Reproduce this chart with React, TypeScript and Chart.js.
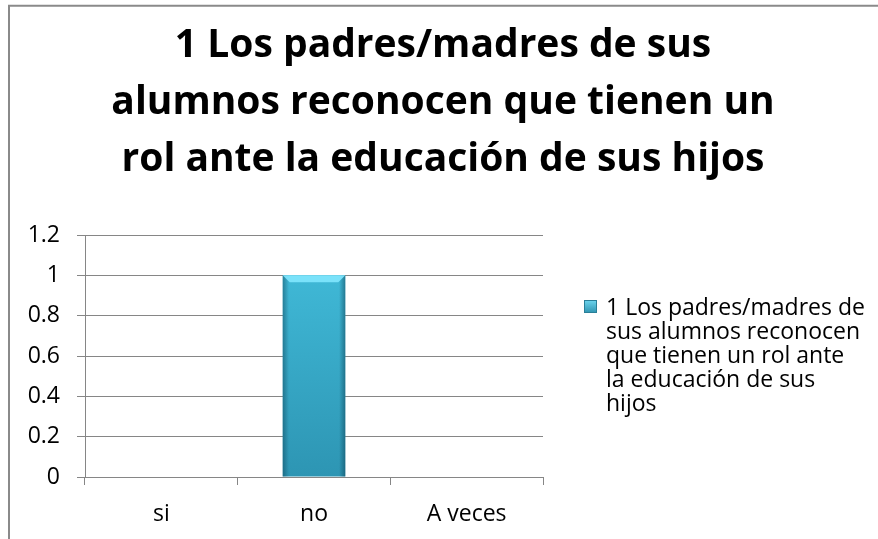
import React, { useEffect, useRef } from "react";
import { Chart, registerables } from "chart.js";

Chart.register(...registerables);

const categories = ["si", "no", "A veces"];
const seriesLabel = "1 Los padres/madres de sus alumnos reconocen que tienen un rol ante la educación de sus hijos";
const seriesValues = [0, 1, 0];
const yTickLabels = ["0", "0.2", "0.4", "0.6", "0.8", "1", "1.2"];
const titleLines = [
  "1 Los padres/madres de sus",
  "alumnos reconocen que tienen un",
  "rol ante la educación de sus hijos",
];
const legendLines = [
  "1 Los padres/madres de",
  "sus alumnos reconocen",
  "que tienen un rol ante",
  "la educación de sus",
  "hijos",
];

const FONT = "'Open Sans', 'DejaVu Sans', sans-serif";
const GRID = "#868686";

const framePlugin = {
  id: "frame",
  afterDraw(chart: any) {
    const ctx = chart.ctx;
    ctx.save();
    ctx.strokeStyle = "#8a8a8a";
    ctx.lineWidth = 2;
    ctx.beginPath();
    ctx.moveTo(9, 600);
    ctx.lineTo(9, 5.7);
    ctx.lineTo(1000, 5.7);
    ctx.stroke();
    ctx.restore();
  },
};

const bevelPlugin = {
  id: "bevel",
  afterDatasetsDraw(chart: any) {
    const ctx = chart.ctx;
    const meta = chart.getDatasetMeta(0);
    meta.data.forEach((el: any) => {
      const h = el.base - el.y;
      if (h <= 0.5) return;
      const l = el.x - el.width / 2;
      const r = el.x + el.width / 2;
      const t = el.y;
      const b = el.base;
      ctx.save();
      const g = ctx.createLinearGradient(l, 0, r, 0);
      g.addColorStop(0, "rgba(10,60,80,0.45)");
      g.addColorStop(0.1, "rgba(10,60,80,0.0)");
      g.addColorStop(0.9, "rgba(10,60,80,0.0)");
      g.addColorStop(1, "rgba(10,60,80,0.5)");
      ctx.fillStyle = g;
      ctx.fillRect(l, t, r - l, b - t);
      ctx.beginPath();
      ctx.moveTo(l, t);
      ctx.lineTo(r, t);
      ctx.lineTo(r - 7, t + 7);
      ctx.lineTo(l + 7, t + 7);
      ctx.closePath();
      ctx.fillStyle = "rgba(125,228,252,0.95)";
      ctx.fill();
      ctx.restore();
    });
  },
};

const legendPlugin = {
  id: "customLegend",
  afterDraw(chart: any) {
    const ctx = chart.ctx;
    ctx.save();
    const sx = 584, sy = 300, s = 13;
    const g = ctx.createLinearGradient(0, sy, 0, sy + s);
    g.addColorStop(0, "#6fd6ef");
    g.addColorStop(1, "#2e93b0");
    ctx.fillStyle = g;
    ctx.fillRect(sx, sy, s, s);
    ctx.strokeStyle = "#2a7f98";
    ctx.lineWidth = 1;
    ctx.strokeRect(sx + 0.5, sy + 0.5, s - 1, s - 1);
    ctx.fillStyle = "#000";
    ctx.font = `23px ${FONT}`;
    ctx.textBaseline = "middle";
    ctx.textAlign = "left";
    legendLines.forEach((line, i) => {
      ctx.fillText(line, 606, 308 + i * 24);
    });
    ctx.restore();
  },
};

export default function App() {
  const ref = useRef<HTMLCanvasElement>(null);
  useEffect(() => {
    const canvas = ref.current!;
    const chart = new Chart(canvas, {
      type: "bar",
      data: {
        labels: categories,
        datasets: [
          {
            label: seriesLabel,
            data: seriesValues,
            backgroundColor: (c: any) => {
              const area = c.chart.chartArea;
              if (!area) return "#3ab5d5";
              const g = c.chart.ctx.createLinearGradient(0, area.top, 0, area.bottom);
              g.addColorStop(0, "#43bfdd");
              g.addColorStop(1, "#2d95b3");
              return g;
            },
            borderWidth: 0,
            categoryPercentage: 1,
            barPercentage: 0.41,
            yAxisID: "y",
          },
        ],
      },
      options: {
        responsive: false,
        animation: false,
        devicePixelRatio: 1,
        layout: { padding: { left: 8, right: 0, top: 0, bottom: 0 } },
        plugins: {
          legend: { display: false },
          tooltip: { enabled: false },
          title: {
            display: true,
            text: titleLines,
            color: "#000",
            font: { family: FONT, size: 39, weight: "bold", lineHeight: 57 / 39 },
            padding: { top: 17, bottom: 47 },
          },
        },
        scales: {
          x: {
            grid: {
              display: true,
              drawOnChartArea: false,
              drawTicks: true,
              tickLength: 8,
              offset: true,
              color: GRID,
            },
            border: { display: true, color: GRID },
            ticks: { color: "#000", font: { family: FONT, size: 23 }, padding: 16 },
            afterFit: (s: any) => {
              s.height = 62;
            },
          },
          y: {
            min: 0,
            max: 1.2,
            ticks: {
              stepSize: 0.2,
              color: "#000",
              font: { family: FONT, size: 23 },
              padding: 17,
              callback: (_v: any, i: number) => yTickLabels[i],
            },
            grid: { color: GRID, tickLength: 8, drawTicks: true },
            border: { display: true, color: GRID },
            afterFit: (s: any) => {
              s.width = 77;
            },
          },
          y2: {
            position: "right",
            display: true,
            grid: { display: false, drawTicks: false },
            border: { display: false },
            ticks: { display: false },
            afterFit: (s: any) => {
              s.width = 335;
            },
          },
        },
      },
      plugins: [bevelPlugin, legendPlugin, framePlugin],
    });
    return () => chart.destroy();
  }, []);
  return (
    <div style={{ position: "absolute", left: 0, top: 0, width: 878, height: 539, background: "#fff", overflow: "hidden" }}>
      <canvas ref={ref} width={878} height={539} style={{ display: "block" }} />
    </div>
  );
}
